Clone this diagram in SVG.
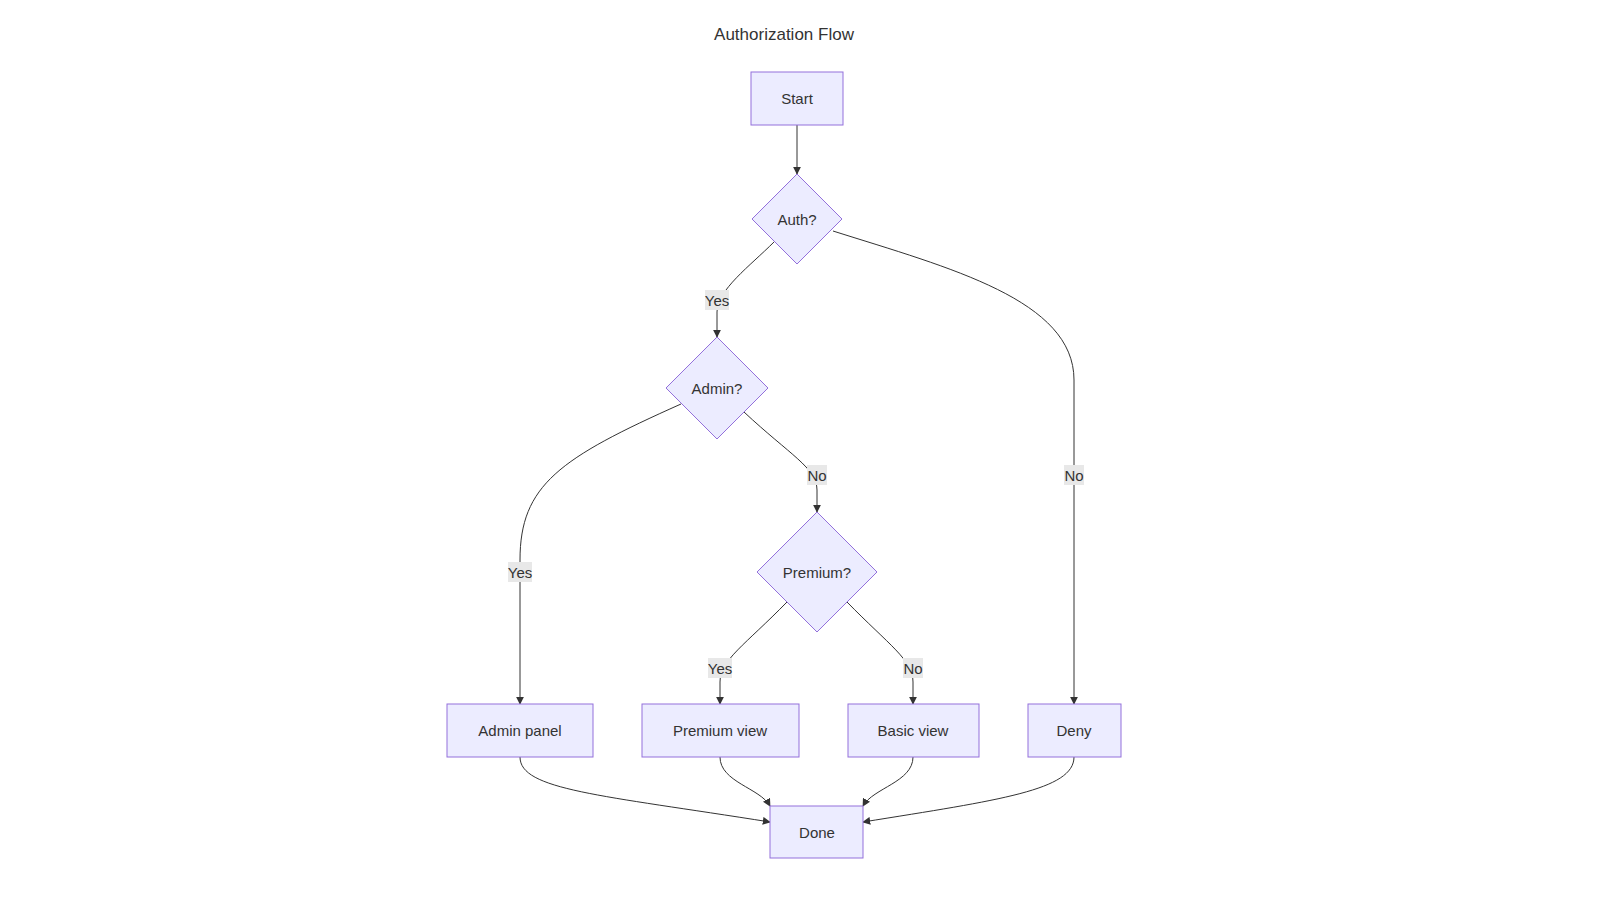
<svg xmlns="http://www.w3.org/2000/svg" width="1600" height="900" viewBox="0 0 1600 900">
<style>
.n{fill:#ECECFF;stroke:#9370DB;stroke-width:1}
.t{font-family:"Liberation Sans",Arial,sans-serif;font-size:15px;fill:#333;text-anchor:middle;dominant-baseline:central}
.e{fill:none;stroke:#333;stroke-width:1;marker-end:url(#a)}
.lb{fill:#e8e8e8}
</style>
<defs><marker id="a" viewBox="0 0 10 10" refX="9" refY="5" markerWidth="8" markerHeight="8" orient="auto"><path d="M0,0L10,5L0,10z" fill="#333"/></marker></defs>
<rect width="1600" height="900" fill="#fff"/>
<text class="t" x="784" y="34" style="font-size:17px">Authorization Flow</text>
<g id="connectors">
<path class="e" d="M797,125L797,174"/>
<path class="e" d="M774,242C750,266 717,290 717,312L717,337"/>
<path class="e" d="M833,231C950,268 1074,300 1074,380L1074,704"/>
<path class="e" d="M681,404C560,458 520,485 520,560L520,704"/>
<path class="e" d="M744,412C790,455 817,468 817,490L817,512"/>
<path class="e" d="M787,602C745,645 720,660 720,682L720,704"/>
<path class="e" d="M847,602C889,645 913,660 913,682L913,704"/>
<path class="e" d="M520,757C520,790 600,795 770,822"/>
<path class="e" d="M720,757C720,782 760,788 770,806"/>
<path class="e" d="M913,757C913,782 873,788 863,806"/>
<path class="e" d="M1074,757C1074,790 1000,800 863,822"/>
<g>
<rect class="lb" x="705" y="290" width="24" height="20"/><text class="t" x="717" y="300">Yes</text>
<rect class="lb" x="1064" y="465" width="20" height="20"/><text class="t" x="1074" y="475">No</text>
<rect class="lb" x="508" y="562" width="24" height="20"/><text class="t" x="520" y="572">Yes</text>
<rect class="lb" x="807" y="465" width="20" height="20"/><text class="t" x="817" y="475">No</text>
<rect class="lb" x="708" y="658" width="24" height="20"/><text class="t" x="720" y="668">Yes</text>
<rect class="lb" x="903" y="658" width="20" height="20"/><text class="t" x="913" y="668">No</text>
</g>
</g>
<g id="start"><rect class="n" x="751" y="72" width="92" height="53"/><text class="t" x="797" y="98">Start</text></g>
<g id="auth"><polygon class="n" points="797,174 842,219 797,264 752,219"/><text class="t" x="797" y="219">Auth?</text></g>
<g id="admin"><polygon class="n" points="717,337 768,388 717,439 666,388"/><text class="t" x="717" y="388">Admin?</text></g>
<g id="premium"><polygon class="n" points="817,512 877,572 817,632 757,572"/><text class="t" x="817" y="572">Premium?</text></g>
<g id="adminpanel"><rect class="n" x="447" y="704" width="146" height="53"/><text class="t" x="520" y="730">Admin panel</text></g>
<g id="premiumview"><rect class="n" x="642" y="704" width="157" height="53"/><text class="t" x="720" y="730">Premium view</text></g>
<g id="basicview"><rect class="n" x="848" y="704" width="131" height="53"/><text class="t" x="913" y="730">Basic view</text></g>
<g id="deny"><rect class="n" x="1028" y="704" width="93" height="53"/><text class="t" x="1074" y="730">Deny</text></g>
<g id="done"><rect class="n" x="770" y="806" width="93" height="52"/><text class="t" x="817" y="832">Done</text></g>
</svg>
